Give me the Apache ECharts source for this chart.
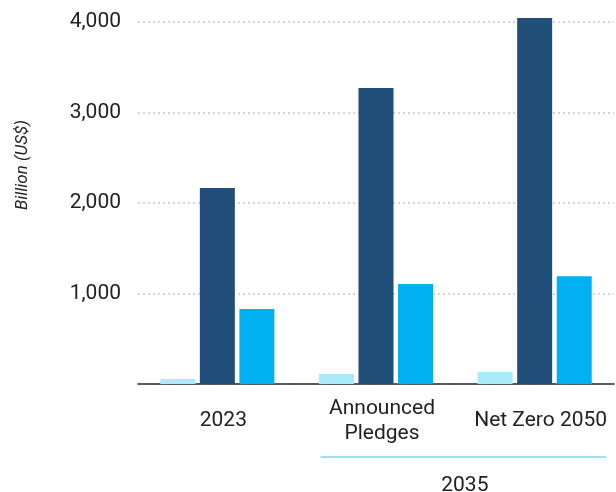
<!DOCTYPE html>
<html>
<head>
<meta charset="utf-8">
<script src="https://cdn.jsdelivr.net/npm/echarts@6/dist/echarts.min.js"></script>
<style>
  html, body { margin: 0; padding: 0; background: #fff; }
  #chart { width: 616px; height: 492px; }
</style>
</head>
<body>
<div id="chart"></div>
<script>
// Scenario categories along the x axis
const categories = ['2023', 'Announced\nPledges', 'Net Zero 2050'];
// Investment by component, billion US$
const seriesLight = [55, 110, 133];
const seriesDark = [2165, 3270, 4045];
const seriesBright = [830, 1105, 1190];
// Value axis ticks
const yTicks = [0, 1000, 2000, 3000, 4000];
// Bracket label grouping the two 2035 scenarios
const groupLabel = '2035';

const FONT = 'Roboto';
const chart = echarts.init(document.getElementById('chart'));

// Bars may rise a little past the top tick, so they are not clipped to the grid
const barCommon = { type: 'bar', barWidth: 35, barGap: '13%', clip: false };

chart.setOption({
  animation: false,
  textStyle: { fontFamily: FONT },
  grid: { left: 138, right: 2, top: 22, bottom: 108 },
  xAxis: {
    type: 'category',
    data: categories,
    axisLine: { show: true, lineStyle: { color: '#2a2a2a', width: 1.5 } },
    axisTick: { show: false },
    axisLabel: {
      color: '#222',
      fontSize: 21,
      fontFamily: FONT,
      lineHeight: 25,
      margin: 37,
      padding: [0, 0, 0, 12],
      verticalAlign: 'middle',
      interval: 0
    }
  },
  yAxis: {
    type: 'value',
    min: yTicks[0],
    max: yTicks[yTicks.length - 1],
    interval: 1000,
    name: 'Billion (US$)',
    nameLocation: 'middle',
    nameGap: 107,
    nameRotate: 90,
    nameTextStyle: {
      color: '#222',
      fontSize: 17,
      fontStyle: 'italic',
      fontFamily: FONT,
      // lift the title above the axis midpoint
      padding: [0, 0, 0, 76]
    },
    axisLine: { show: false },
    axisTick: { show: false },
    axisLabel: {
      color: '#222',
      fontSize: 21,
      fontFamily: FONT,
      margin: 17,
      formatter: v => (v === 0 ? '' : v.toLocaleString('en-US'))
    },
    splitLine: {
      lineStyle: { color: '#d4d4d4', width: 2, type: [2, 3] }
    }
  },
  series: [
    Object.assign({ name: 'Light', data: seriesLight, itemStyle: { color: '#aaebfb' } }, barCommon),
    Object.assign({ name: 'Dark', data: seriesDark, itemStyle: { color: '#1f4e79' } }, barCommon),
    Object.assign({ name: 'Bright', data: seriesBright, itemStyle: { color: '#00b0f0' } }, barCommon)
  ]
});

// Bracket under the two 2035 scenarios, placed from the category scale
function drawGroupBracket() {
  const c1 = chart.convertToPixel({ xAxisIndex: 0 }, categories[1]);
  const c2 = chart.convertToPixel({ xAxisIndex: 0 }, categories[2]);
  const band = c2 - c1;
  const zeroY = chart.convertToPixel({ yAxisIndex: 0 }, 0);
  const x1 = c1 - band * 0.35;
  const x2 = c2 + band * 0.45;
  const lineY = zeroY + 73;
  chart.setOption({
    graphic: [
      {
        type: 'line',
        shape: { x1: x1, y1: lineY, x2: x2, y2: lineY },
        style: { stroke: '#7fd6f3', lineWidth: 1.5 }
      },
      {
        type: 'text',
        x: (c1 + c2) / 2 + band * 0.06,
        y: lineY + 29,
        style: {
          text: groupLabel,
          fill: '#222',
          font: '21px ' + FONT,
          textAlign: 'center',
          textVerticalAlign: 'middle'
        }
      }
    ]
  });
}
drawGroupBracket();
</script>
</body>
</html>
